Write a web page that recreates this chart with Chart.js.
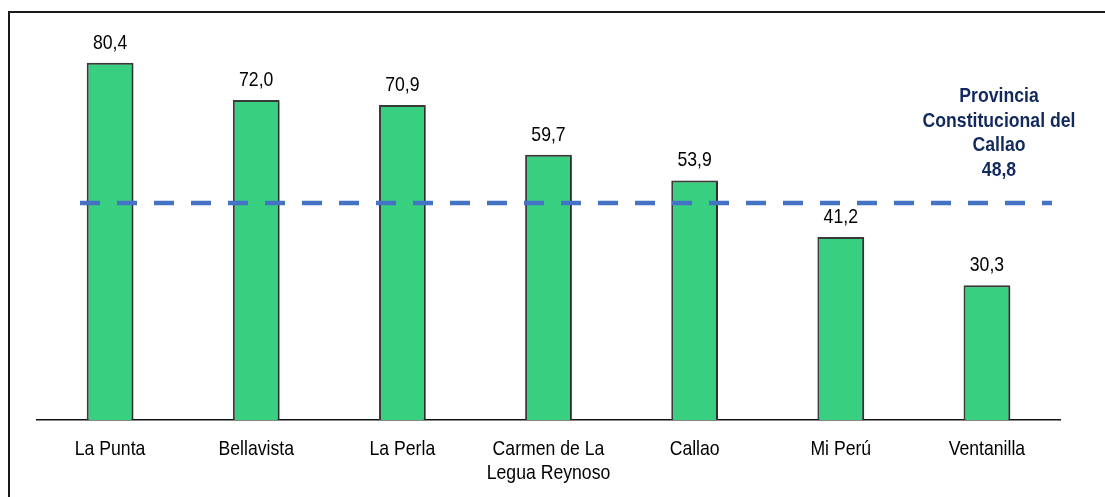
<!DOCTYPE html>
<html>
<head>
<meta charset="utf-8">
<script src="https://cdn.jsdelivr.net/npm/chart.js@4/dist/chart.umd.min.js"></script>
<style>
  html, body { margin: 0; padding: 0; background: #fff; }
  #wrap { width: 1105px; height: 497px; position: relative; }
</style>
</head>
<body>
<div id="wrap"><canvas id="c" width="1105" height="497"></canvas></div>
<script>
// Districts of the Callao province and their values
const categories = ['La Punta', 'Bellavista', 'La Perla', ['Carmen de La', 'Legua Reynoso'], 'Callao', 'Mi Perú', 'Ventanilla'];
const values = [80.4, 72.0, 70.9, 59.7, 53.9, 41.2, 30.3];
// Provincial reference level
const provinceValue = 48.8;
const provinceLabel = ['Provincia', 'Constitucional del', 'Callao'];

const fmt = v => v.toFixed(1).replace('.', ',');
const FONT = '"Liberation Sans", Arial, sans-serif';
const NARROW = 0.84; // horizontal squeeze for a narrow typeface look

// Draws text horizontally condensed, centred on x
function narrowText(ctx, text, x, y) {
  ctx.save();
  ctx.translate(x, y);
  ctx.scale(NARROW, 1);
  ctx.fillText(text, 0, 0);
  ctx.restore();
}

// Outer frame around the figure
const framePlugin = {
  id: 'frame',
  beforeDraw(chart) {
    const ctx = chart.ctx;
    ctx.save();
    ctx.fillStyle = '#fff';
    ctx.fillRect(0, 0, chart.width, chart.height);
    ctx.strokeStyle = '#1a1a1a';
    ctx.lineWidth = 2;
    ctx.strokeRect(9, 12, chart.width + 20, chart.height + 20);
    ctx.restore();
  }
};

// Soft shadow behind the bars
const shadowPlugin = {
  id: 'barShadow',
  beforeDatasetDraw(chart) {
    const ctx = chart.ctx;
    ctx.save();
    ctx.shadowColor = 'rgba(0,0,0,0.25)';
    ctx.shadowOffsetX = 2;
    ctx.shadowOffsetY = 1;
    ctx.shadowBlur = 2;
  },
  afterDatasetDraw(chart) {
    chart.ctx.restore();
  }
};

// Category labels, value labels, provincial dashed line and its caption
const overlayPlugin = {
  id: 'overlay',
  afterDatasetsDraw(chart) {
    const ctx = chart.ctx;
    const meta = chart.getDatasetMeta(0);
    const xs = chart.scales.x;
    ctx.save();
    ctx.font = '21px ' + FONT;
    ctx.fillStyle = '#000';
    ctx.textAlign = 'center';
    ctx.textBaseline = 'alphabetic';

    categories.forEach((lab, i) => {
      const x = xs.getPixelForTick(i);
      const lines = Array.isArray(lab) ? lab : [lab];
      lines.forEach((t, k) => narrowText(ctx, t, x, xs.top + 35 + k * 24));
    });

    meta.data.forEach((bar, i) => {
      narrowText(ctx, fmt(values[i]), bar.x, bar.y - 14);
    });

    const y = chart.scales.y.getPixelForValue(provinceValue);
    const area = chart.chartArea;
    ctx.strokeStyle = '#4472C4';
    ctx.lineWidth = 4.5;
    ctx.setLineDash([20, 17]);
    ctx.beginPath();
    ctx.moveTo(area.left + 43, y);
    ctx.lineTo(area.right - 8, y);
    ctx.stroke();
    ctx.setLineDash([]);

    ctx.font = 'bold 21px ' + FONT;
    ctx.fillStyle = '#12295E';
    const cx = 999;
    const lines = provinceLabel.concat([fmt(provinceValue)]);
    lines.forEach((t, k) => narrowText(ctx, t, cx, y - 101 + k * 24.5));
    ctx.restore();
  }
};

new Chart(document.getElementById('c'), {
  type: 'bar',
  data: {
    labels: categories,
    datasets: [{
      data: values,
      backgroundColor: '#38CF80',
      borderColor: '#3a3a3a',
      borderWidth: 2,
      borderSkipped: 'bottom',
      categoryPercentage: 1,
      barPercentage: 0.32
    }]
  },
  options: {
    responsive: false,
    animation: false,
    devicePixelRatio: 1,
    layout: { padding: { left: 37, right: 45, top: 20, bottom: 0 } },
    plugins: { legend: { display: false }, tooltip: { enabled: false } },
    scales: {
      x: {
        grid: { display: false, drawTicks: false },
        border: { display: true, color: '#111', width: 1.5 },
        ticks: { display: false },
        afterFit(scale) { scale.height = 77; }
      },
      y: {
        display: false,
        min: 0,
        max: 90
      }
    }
  },
  plugins: [framePlugin, shadowPlugin, overlayPlugin]
});
</script>
</body>
</html>
